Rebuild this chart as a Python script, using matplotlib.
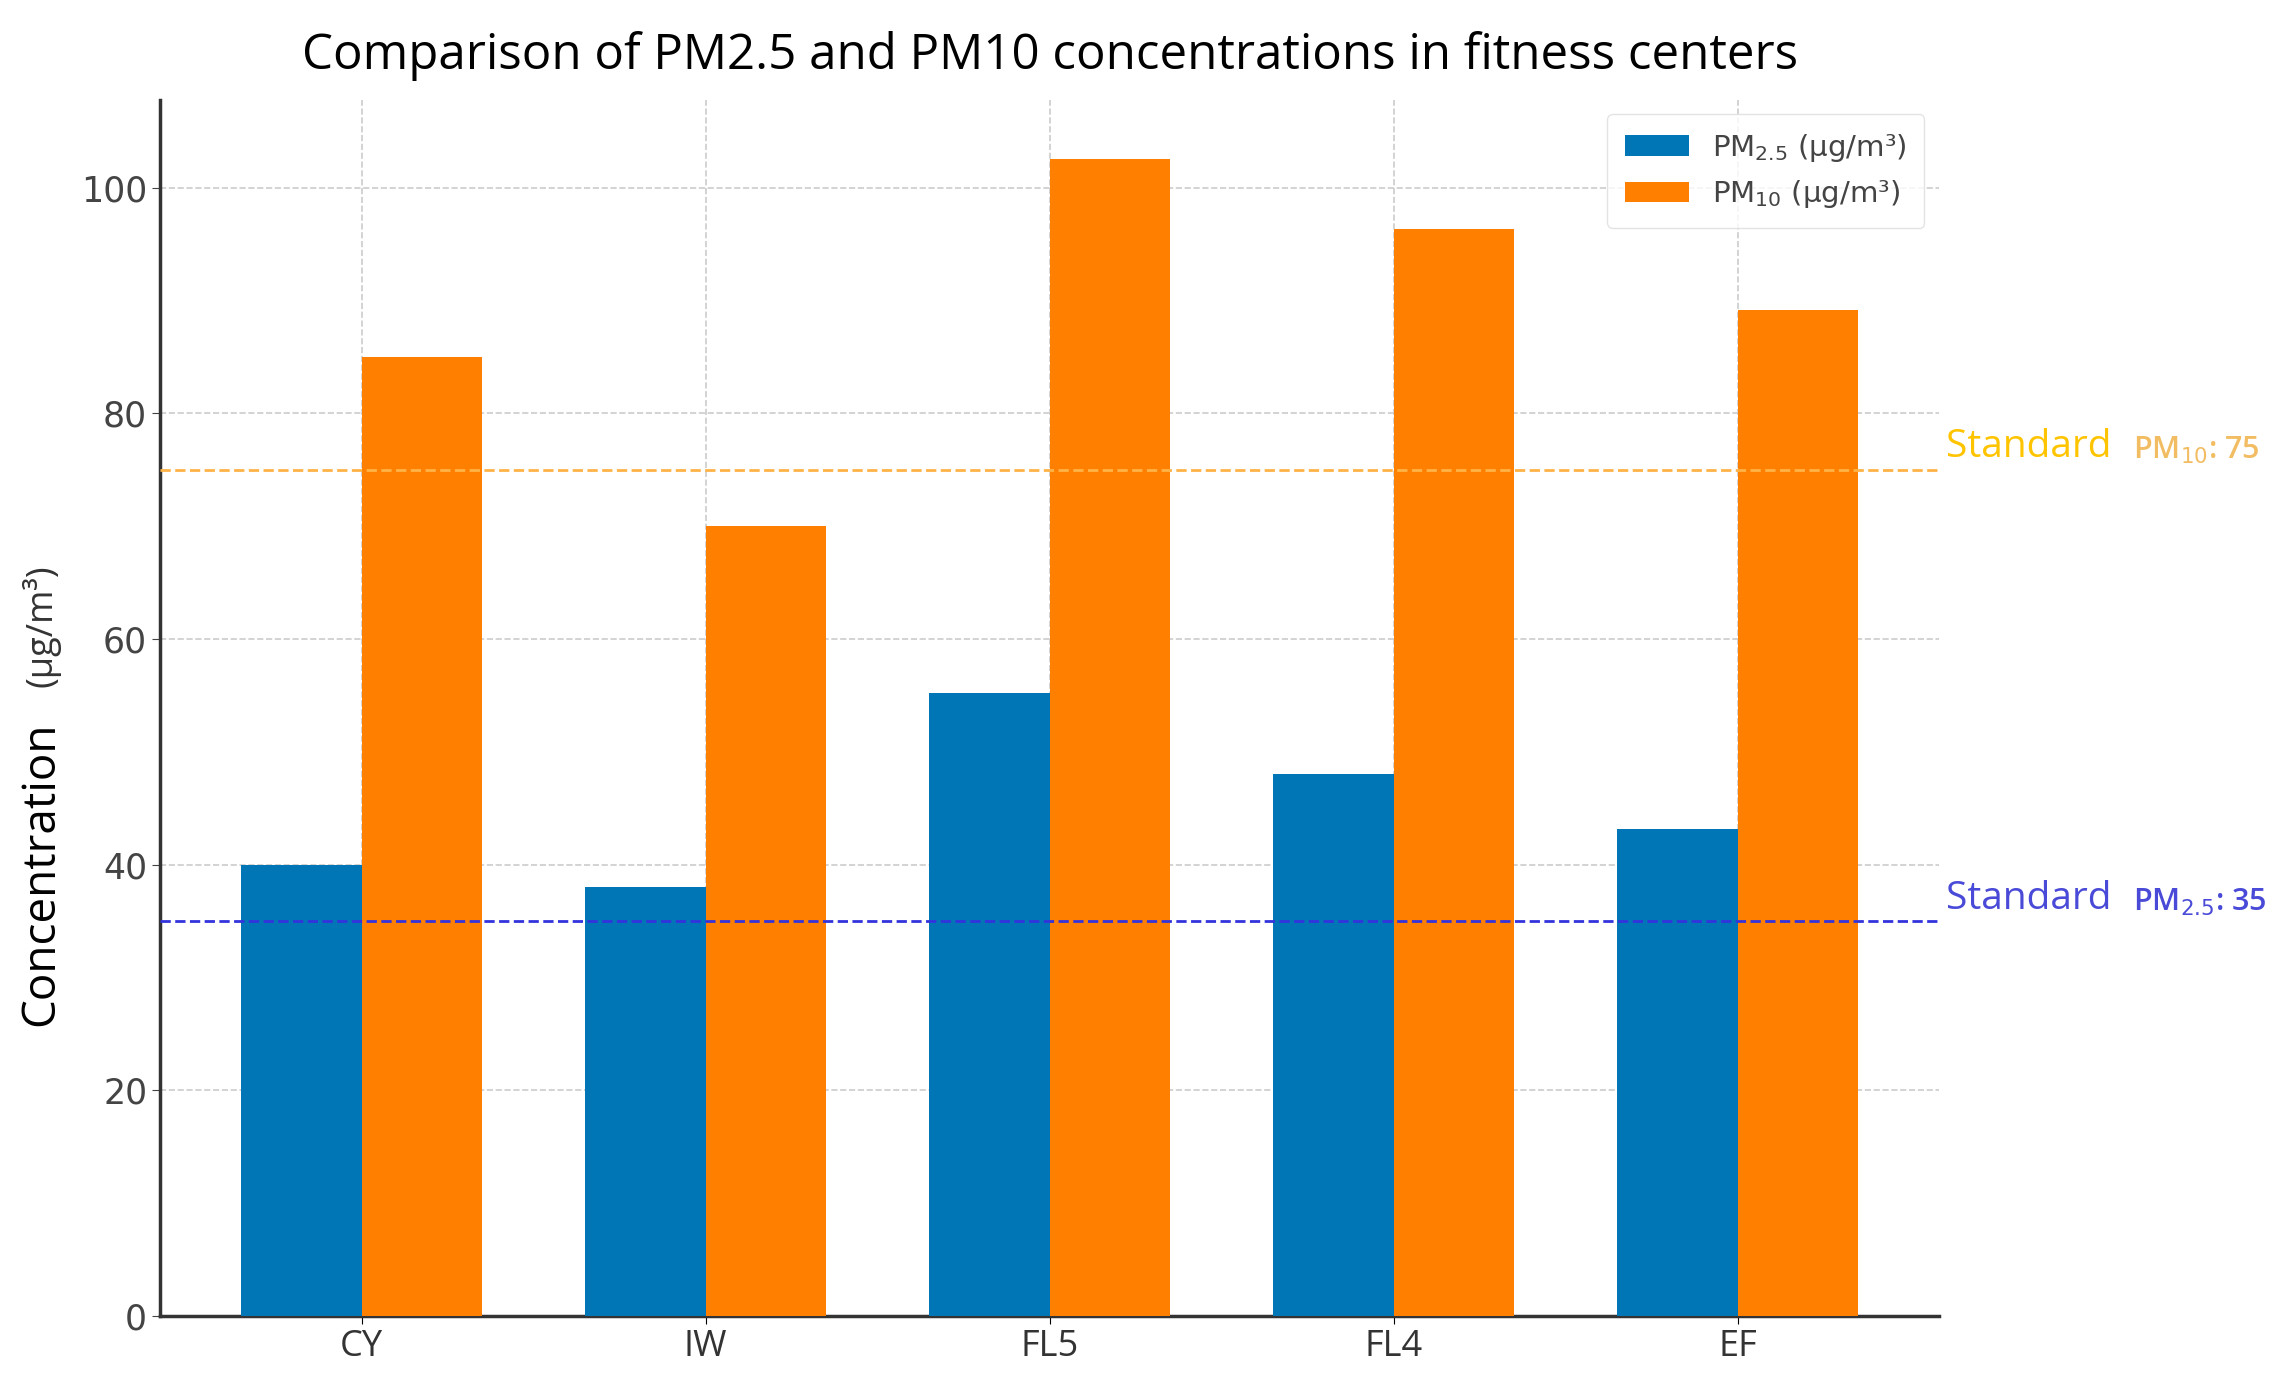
import matplotlib.pyplot as plt
import numpy as np

# Data
sites = ['CY', 'IW', 'FL5', 'FL4', 'EF']
pm25 = [40, 38, 55.2, 48, 43.2]
pm10 = [85, 70, 102.5, 96.3, 89.2]
std_pm25 = 35
std_pm10 = 75

x = np.arange(len(sites))
width = 0.35

fig = plt.figure(figsize=(22.92, 13.84), dpi=100)
ax = fig.add_axes([0.070, 0.049, 0.776, 0.879])

ax.bar(x - width / 2, pm25, width, color='#0076B6', label=r'PM$_{2.5}$ (μg/m³)', zorder=3)
ax.bar(x + width / 2, pm10, width, color='#FF8000', label=r'PM$_{10}$ (μg/m³)', zorder=3)

# standard lines
ax.axhline(std_pm10, color='#FFB347', linestyle='--', linewidth=2, zorder=4)
ax.axhline(std_pm25, color='#3333DD', linestyle='--', linewidth=2, zorder=4)

trans = ax.get_yaxis_transform()
ax.text(1.004, std_pm10 + 0.3, 'Standard', transform=trans,
        color='#FFC400', fontsize=28, family='Open Sans', va='bottom')
ax.text(1.109, std_pm10 + 0.3, r'PM$_{10}$: 75', transform=trans,
        color='#F2BD62', fontsize=22, family='Open Sans', va='bottom', fontweight='semibold')
ax.text(1.004, std_pm25 + 0.3, 'Standard', transform=trans,
        color='#4A4AD8', fontsize=28, family='Open Sans', va='bottom')
ax.text(1.109, std_pm25 + 0.3, r'PM$_{2.5}$: 35', transform=trans,
        color='#4A4AD8', fontsize=22, family='Open Sans', va='bottom', fontweight='semibold')

ax.set_xticks(x)
ax.set_xticklabels(sites, fontsize=26, family='Open Sans', color='#333333')
ax.set_yticks([0, 20, 40, 60, 80, 100])
ax.tick_params(axis='y', labelsize=25, colors='#444444', length=6)
ax.tick_params(axis='x', length=6)
ax.set_ylim(0, 107.8)

ax.grid(True, linestyle='--', color='#cccccc', linewidth=1.2, zorder=0)
ax.spines['top'].set_visible(False)
ax.spines['right'].set_visible(False)
for s in ['left', 'bottom']:
    ax.spines[s].set_linewidth(2.5)
    ax.spines[s].set_color('#333333')

ax.set_title('Comparison of PM2.5 and PM10 concentrations in fitness centers',
             fontsize=35.5, family='Open Sans', pad=22)
fig.text(0.018, 0.369, 'Concentration', rotation=90, fontsize=33, family='Open Sans',
         va='center', ha='center')
fig.text(0.018, 0.548, '(μg/m³)', rotation=90, fontsize=26, family='Open Sans',
         va='center', ha='center', color='#333333')

leg = ax.legend(loc='upper right', prop={'family': 'DejaVu Sans', 'size': 21},
                frameon=True, borderpad=0.6, handlelength=2.2)
leg.get_frame().set_edgecolor('#dddddd')
for t in leg.get_texts():
    t.set_color('#444444')

fig.savefig('out.png', dpi=100)
